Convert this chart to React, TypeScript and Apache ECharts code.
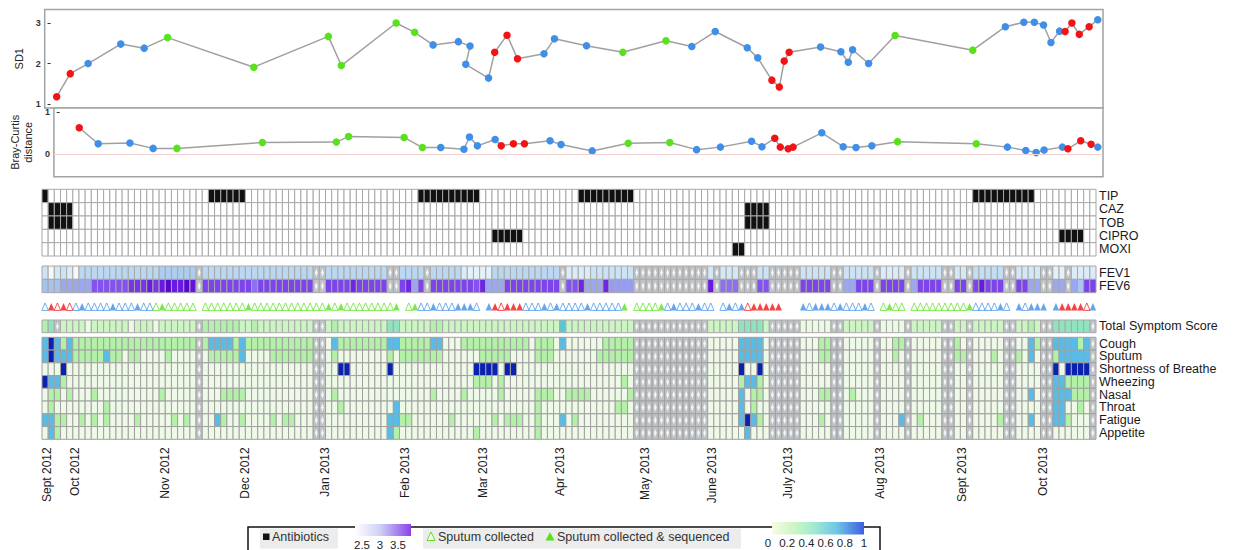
import React, { useEffect, useRef } from "react";
import * as echarts from "echarts";

type Run = [number, number, number];
type Span = [number, number];
type TriRun = [number, number, string];

const N_COLS = 171;
const FONT = "Liberation Sans, Arial, Helvetica, sans-serif";

// ---------- SD1 (top panel), x in sample-column units ----------
const SD1_X = [1.0, 3.2, 6.1, 11.4, 15.2, 19.0, 33.0, 45.1, 47.2, 56.1, 59.1, 62.1, 66.2, 68.1, 67.4, 71.1, 72.1, 74.1, 75.8, 80.1, 81.8, 87.0, 92.9, 99.9, 104.1, 107.9, 113.1, 114.8, 117.1, 118.3, 119.1, 119.9, 125.0, 128.3, 129.5, 130.2, 132.8, 137.1, 149.7, 155.0, 158.0, 159.7, 161.2, 162.4, 163.8, 164.7, 165.8, 167.0, 168.6, 170.0];
const SD1_Y = [1.18, 1.75, 2.0, 2.48, 2.38, 2.64, 1.91, 2.67, 1.95, 3.0, 2.77, 2.46, 2.54, 2.43, 1.98, 1.64, 2.28, 2.7, 2.12, 2.24, 2.61, 2.44, 2.28, 2.56, 2.42, 2.79, 2.39, 2.14, 1.59, 1.42, 2.06, 2.28, 2.41, 2.29, 2.03, 2.34, 2.0, 2.69, 2.33, 2.91, 3.02, 3.02, 2.95, 2.52, 2.8, 2.79, 3.0, 2.72, 2.91, 3.08];
const SD1_GROUP = "rrbbbggggggbbbbbrrrbbbggbbbbrrrrbbbbbggbbbbbbrrrrb";

// ---------- Bray-Curtis distance ----------
const BC_X = [3.2, 6.3, 11.5, 15.3, 19.2, 33.2, 45.3, 47.3, 56.4, 59.4, 62.4, 66.2, 67.1, 68.4, 71.3, 72.3, 74.3, 76.1, 80.3, 82.1, 87.2, 93.1, 99.9, 104.3, 108.2, 113.3, 115.0, 117.1, 118.0, 119.3, 120.1, 124.8, 128.3, 130.4, 133.0, 137.2, 150.1, 155.2, 158.2, 159.9, 161.2, 164.2, 165.1, 167.2, 168.9, 170.0];
const BC_Y = [0.63, 0.25, 0.27, 0.14, 0.14, 0.28, 0.29, 0.42, 0.4, 0.16, 0.16, 0.12, 0.41, 0.2, 0.35, 0.2, 0.25, 0.25, 0.32, 0.23, 0.08, 0.26, 0.28, 0.11, 0.17, 0.31, 0.18, 0.38, 0.17, 0.13, 0.17, 0.51, 0.18, 0.16, 0.2, 0.3, 0.25, 0.17, 0.09, 0.04, 0.1, 0.17, 0.13, 0.32, 0.24, 0.17];
const BC_GROUP = "rbbbggggggbbbbbrrrbbbggbbbbrrrrbbbbggbbbbbrrrb";

// ---------- Antibiotics (column spans) ----------
const ABX_NAMES = ["TIP", "CAZ", "TOB", "CIPRO", "MOXI"];
const TIP: Span[] = [[0, 0], [27, 32], [61, 70], [87, 95], [151, 160]];
const CAZ: Span[] = [[1, 4], [114, 117]];
const TOB: Span[] = [[1, 4], [114, 117]];
const CIPRO: Span[] = [[73, 77], [165, 168]];
const MOXI: Span[] = [[112, 113]];

// ---------- Lung function ----------
const FEV_NAMES = ["FEV1", "FEV6"];
const FEV_MISSING = [25, 44, 45, 56, 57, 62, 84, 96, 97, 98, 99, 100, 101, 102, 103, 104, 105, 106, 107, 109, 113, 114, 115, 118, 119, 120, 121, 122, 128, 129, 135, 140, 146, 147, 150, 156, 157, 162, 163, 166];
const FEV1: Run[] = [[0, 0, 2.55], [1, 1, 2.3], [2, 2, 2.5], [3, 3, 2.55], [4, 4, 2.45], [5, 5, 2.3], [6, 18, 2.65], [19, 24, 2.75], [26, 43, 2.65], [46, 55, 2.65], [58, 61, 2.65], [63, 67, 2.65], [68, 68, 2.45], [69, 72, 2.4], [73, 83, 2.65], [85, 88, 2.45], [89, 95, 2.55], [108, 108, 2.5], [110, 112, 2.5], [116, 117, 2.55], [123, 127, 2.55], [130, 134, 2.55], [136, 139, 2.45], [141, 145, 2.55], [148, 149, 2.5], [151, 155, 2.6], [158, 161, 2.5], [164, 165, 2.4], [167, 170, 2.45]];
const FEV6: Run[] = [[0, 2, 2.85], [3, 7, 3.0], [8, 13, 3.3], [14, 16, 3.4], [17, 17, 3.5], [18, 18, 3.4], [19, 19, 3.5], [20, 20, 3.65], [21, 22, 3.5], [23, 23, 3.65], [24, 24, 3.55], [26, 33, 3.35], [34, 34, 3.2], [35, 43, 3.35], [46, 49, 3.35], [50, 50, 3.45], [51, 55, 3.35], [58, 58, 3.35], [59, 59, 3.45], [60, 60, 3.0], [61, 61, 3.35], [63, 69, 3.35], [70, 70, 3.3], [71, 71, 3.45], [72, 74, 3.0], [75, 83, 3.35], [85, 86, 3.3], [87, 87, 3.45], [88, 90, 3.0], [91, 91, 3.45], [92, 95, 3.05], [108, 108, 3.5], [110, 112, 3.2], [116, 117, 3.3], [123, 127, 3.35], [130, 131, 3.0], [132, 134, 3.35], [136, 139, 3.35], [141, 141, 3.0], [142, 145, 3.35], [148, 149, 3.35], [151, 151, 3.35], [152, 152, 3.5], [153, 155, 3.35], [158, 159, 3.35], [160, 161, 3.0], [164, 165, 3.0], [167, 167, 3.0], [168, 168, 2.8], [169, 170, 3.35]];

// ---------- Sputum samples (b/r/g = open, B/R/G = sequenced) ----------
const SPUTUM: TriRun[] = [[0, 0, "b"], [1, 1, "R"], [2, 2, "r"], [3, 3, "R"], [4, 4, "r"], [5, 5, "b"], [6, 6, "B"], [7, 10, "b"], [11, 11, "B"], [12, 14, "b"], [15, 15, "B"], [16, 17, "b"], [18, 18, "g"], [19, 19, "G"], [20, 24, "g"], [26, 32, "g"], [33, 33, "G"], [34, 45, "g"], [46, 46, "G"], [47, 47, "g"], [48, 48, "G"], [49, 56, "g"], [57, 57, "G"], [59, 59, "g"], [60, 60, "G"], [61, 62, "b"], [63, 63, "B"], [64, 66, "b"], [67, 69, "B"], [70, 70, "b"], [72, 72, "B"], [73, 73, "R"], [74, 74, "r"], [75, 77, "R"], [78, 80, "b"], [81, 81, "B"], [82, 82, "b"], [83, 83, "B"], [84, 87, "b"], [88, 88, "B"], [89, 93, "b"], [94, 94, "G"], [96, 99, "g"], [100, 100, "G"], [101, 101, "b"], [102, 102, "B"], [103, 105, "b"], [106, 106, "B"], [107, 108, "b"], [110, 110, "b"], [111, 111, "B"], [112, 112, "b"], [113, 113, "B"], [114, 114, "r"], [115, 119, "R"], [123, 123, "B"], [124, 124, "b"], [125, 127, "B"], [128, 128, "b"], [129, 129, "B"], [130, 132, "b"], [133, 133, "B"], [134, 134, "b"], [136, 136, "g"], [137, 137, "G"], [138, 139, "g"], [141, 149, "g"], [150, 150, "G"], [151, 154, "b"], [155, 155, "B"], [156, 156, "b"], [158, 158, "B"], [159, 159, "b"], [160, 162, "B"], [164, 164, "B"], [165, 168, "R"], [169, 169, "r"], [170, 170, "B"]];

// ---------- Symptoms (0..1 scores) ----------
const SYM_MISSING = [25, 44, 45, 96, 97, 98, 99, 100, 101, 102, 103, 104, 105, 106, 107, 118, 119, 120, 121, 122, 128, 129, 135, 140, 146, 147, 150, 156, 157, 162, 163, 170];
const TOTAL_MISSING = [2, 25, 44, 45, 96, 97, 98, 99, 100, 101, 102, 103, 104, 105, 106, 107, 118, 119, 120, 121, 122, 128, 129, 135, 140, 146, 147, 150, 156, 157, 162, 163, 170];
const TOTAL_BASE = 0.15;
const TOTAL: Run[] = [[0, 0, 0.25], [1, 1, 0.4], [7, 7, 0.05], [14, 14, 0.05], [18, 18, 0.05], [26, 31, 0.25], [34, 34, 0.25], [47, 47, 0.25], [56, 57, 0.4], [63, 64, 0.25], [84, 84, 0.55], [113, 116, 0.4], [123, 127, 0.05], [136, 139, 0.05], [160, 160, 0.25], [164, 169, 0.4]];
const COUGH: Run[] = [[0, 0, 0.75], [1, 1, 1], [2, 2, 0.75], [3, 3, 0.25], [4, 4, 0.75], [5, 24, 0.25], [26, 26, 0.25], [27, 30, 0.75], [31, 31, 0.25], [32, 32, 0.75], [33, 43, 0.25], [47, 47, 0.75], [48, 55, 0.25], [56, 57, 0.75], [58, 62, 0.25], [63, 64, 0.75], [68, 78, 0.25], [80, 82, 0.25], [84, 84, 0.75], [91, 95, 0.25], [113, 116, 0.75], [126, 127, 0.25], [138, 139, 0.25], [148, 148, 0.25], [160, 160, 0.75], [161, 161, 0.25], [164, 167, 0.75], [168, 168, 0.25], [169, 169, 0.75]];
const SPUTUM_SYM: Run[] = [[0, 0, 0.75], [1, 1, 1], [2, 4, 0.75], [5, 9, 0.25], [10, 10, 0.75], [11, 12, 0.25], [14, 15, 0.25], [20, 20, 0.25], [27, 31, 0.25], [32, 32, 0.75], [37, 43, 0.25], [47, 47, 0.25], [56, 56, 0.25], [58, 64, 0.25], [71, 75, 0.25], [80, 82, 0.25], [90, 95, 0.25], [113, 116, 0.75], [126, 127, 0.25], [138, 138, 0.25], [148, 149, 0.25], [154, 154, 0.25], [158, 158, 0.25], [160, 160, 0.75], [164, 164, 0.25], [165, 169, 0.75]];
const BREATH: Run[] = [[3, 3, 1], [48, 49, 1], [56, 56, 1], [70, 73, 1], [75, 76, 1], [113, 113, 1], [116, 116, 1], [164, 164, 1], [166, 169, 1]];
const WHEEZE: Run[] = [[0, 0, 1], [1, 2, 0.75], [3, 3, 0.25], [70, 72, 0.25], [74, 74, 0.25], [94, 94, 0.25], [113, 113, 0.25], [114, 115, 0.75], [116, 116, 0.25], [164, 165, 0.75], [166, 169, 0.25]];
const NASAL: Run[] = [[1, 2, 0.25], [4, 4, 0.25], [8, 8, 0.25], [19, 19, 0.25], [29, 32, 0.25], [47, 47, 0.25], [63, 63, 0.25], [68, 68, 0.25], [74, 74, 0.25], [80, 82, 0.25], [85, 88, 0.25], [95, 95, 0.25], [113, 113, 0.75], [115, 116, 0.25], [126, 127, 0.25], [131, 131, 0.25], [160, 160, 0.75], [164, 166, 0.75], [167, 169, 0.25]];
const THROAT: Run[] = [[1, 1, 0.25], [10, 10, 0.25], [48, 48, 0.25], [57, 57, 0.75], [80, 80, 0.25], [93, 94, 0.25], [113, 113, 0.75], [115, 115, 0.25], [164, 165, 0.75], [168, 168, 0.25]];
const FATIGUE: Run[] = [[0, 1, 0.75], [2, 3, 0.25], [6, 6, 0.25], [8, 8, 0.25], [10, 10, 0.25], [15, 15, 0.25], [21, 21, 0.25], [23, 23, 0.25], [28, 28, 0.75], [29, 29, 0.25], [32, 32, 0.25], [37, 37, 0.25], [39, 40, 0.25], [56, 57, 0.75], [58, 59, 0.25], [66, 66, 0.25], [73, 73, 0.25], [75, 77, 0.25], [80, 80, 0.25], [84, 84, 0.75], [86, 86, 0.25], [113, 113, 0.75], [114, 114, 1], [115, 115, 0.75], [116, 116, 0.25], [126, 126, 0.25], [139, 139, 0.75], [142, 142, 0.25], [155, 155, 0.25], [160, 160, 0.75], [164, 165, 0.75], [166, 166, 0.25]];
const APPETITE: Run[] = [[1, 1, 0.75], [2, 2, 0.25], [56, 56, 0.75], [57, 57, 0.25], [70, 70, 0.25], [80, 80, 0.25], [114, 114, 0.75]];
const SYMPTOM_NAMES = ["Cough", "Sputum", "Shortness of Breathe", "Wheezing", "Nasal", "Throat", "Fatigue", "Appetite"];
const TOTAL_NAMES = ["Total Symptom Score"];

// ---------- Time axis ----------
const MONTH_LABELS = ["Sept 2012", "Oct 2012", "Nov 2012", "Dec 2012", "Jan 2013", "Feb 2013", "Mar 2013", "Apr 2013", "May 2013", "June 2013", "July 2013", "Aug 2013", "Sept 2013", "Oct 2013"];
const MONTH_POS = [0.76, 5.35, 19.95, 32.9, 45.9, 58.9, 71.5, 84.0, 97.8, 108.7, 121.0, 135.9, 149.3, 162.4];

// ---------- Legend ticks ----------
const FEV_TICKS = ["2.5", "3", "3.5"];
const SYM_TICKS = ["0", "0.2", "0.4", "0.6", "0.8", "1"];

// ---------- colours ----------
const GROUP_COLOR: Record<string, string> = { r: "#f21414", b: "#3f8fe8", g: "#58e21c" };
const FEV_STOPS: [number, string][] = [[2.3, "#f4f9fd"], [2.5, "#d3e8f6"], [2.7, "#b1d3ef"], [2.9, "#a2bcee"], [3.05, "#979cf0"], [3.3, "#8452f0"], [3.5, "#6a18e4"], [3.7, "#5200cc"]];
const TOTAL_STOPS: [number, string][] = [[0, "#f2fbee"], [0.05, "#eafae3"], [0.15, "#cdf5c4"], [0.25, "#b3efad"], [0.4, "#8fe4bf"], [0.55, "#58c8d8"], [1, "#2f6fd8"]];
const SYM_STOPS: [number, string][] = [[0, "#eefae7"], [0.25, "#b4f1a8"], [0.5, "#92e6c4"], [0.75, "#58bce6"], [1, "#0b22b0"]];

function hex(h: string): number[] {
  const s = h.replace("#", "");
  return [0, 2, 4].map((i) => parseInt(s.slice(i, i + 2), 16));
}
function lerp(stops: [number, string][], v: number): string {
  if (v <= stops[0][0]) return stops[0][1];
  for (let i = 1; i < stops.length; i++) {
    if (v <= stops[i][0]) {
      const [a, ca] = stops[i - 1];
      const [b, cb] = stops[i];
      const t = (v - a) / (b - a);
      const A = hex(ca), B = hex(cb);
      const m = A.map((x, k) => Math.round(x + (B[k] - x) * t));
      return `rgb(${m[0]},${m[1]},${m[2]})`;
    }
  }
  return stops[stops.length - 1][1];
}
function lookup(runs: Run[], c: number): number | undefined {
  for (const r of runs) if (c >= r[0] && c <= r[1]) return r[2];
  return undefined;
}

type Cell = { c: number; r: number; fill: string; missing: boolean };

function buildCells(): Record<string, Cell[]> {
  const abx: Cell[] = [];
  [TIP, CAZ, TOB, CIPRO, MOXI].forEach((spans, r) => {
    for (let c = 0; c < N_COLS; c++) {
      const on = spans.some((s) => c >= s[0] && c <= s[1]);
      abx.push({ c, r, fill: on ? "#111111" : "#ffffff", missing: false });
    }
  });
  const fev: Cell[] = [];
  [FEV1, FEV6].forEach((runs, r) => {
    for (let c = 0; c < N_COLS; c++) {
      const v = lookup(runs, c);
      const miss = FEV_MISSING.includes(c) || v === undefined;
      fev.push({ c, r, fill: miss ? "" : lerp(FEV_STOPS, v as number), missing: miss });
    }
  });
  const total: Cell[] = [];
  for (let c = 0; c < N_COLS; c++) {
    const v = lookup(TOTAL, c);
    const miss = TOTAL_MISSING.includes(c);
    total.push({ c, r: 0, fill: lerp(TOTAL_STOPS, v === undefined ? TOTAL_BASE : v), missing: miss });
  }
  const sym: Cell[] = [];
  [COUGH, SPUTUM_SYM, BREATH, WHEEZE, NASAL, THROAT, FATIGUE, APPETITE].forEach((runs, r) => {
    for (let c = 0; c < N_COLS; c++) {
      const v = lookup(runs, c);
      sym.push({ c, r, fill: lerp(SYM_STOPS, v === undefined ? 0 : v), missing: SYM_MISSING.includes(c) });
    }
  });
  return { abx, fev, total, sym };
}

function cellSeries(idx: number, cells: Cell[], stroke: string) {
  return {
    type: "custom",
    xAxisIndex: idx,
    yAxisIndex: idx,
    silent: true,
    clip: false,
    encode: { x: 0, y: 1 },
    data: cells.map((cl) => [cl.c, cl.r]),
    renderItem: (params: any, api: any) => {
      const cl = cells[params.dataIndex];
      const p0 = api.coord([cl.c, cl.r]);
      const p1 = api.coord([cl.c + 1, cl.r + 1]);
      const x = Math.min(p0[0], p1[0]);
      const y = Math.min(p0[1], p1[1]);
      const w = Math.abs(p1[0] - p0[0]);
      const h = Math.abs(p1[1] - p0[1]);
      if (cl.missing) {
        return {
          type: "group",
          children: [
            { type: "rect", shape: { x, y, width: w, height: h }, style: { fill: "#bfc3c6", stroke, lineWidth: 1 } },
            {
              type: "polygon",
              shape: { points: [[x + w / 2, y + 1.4], [x + w - 1.3, y + h / 2], [x + w / 2, y + h - 1.4], [x + 1.3, y + h / 2]] },
              style: { fill: "#f3f4f5", stroke: "#b0b4b8", lineWidth: 0.5 },
            },
          ],
        };
      }
      return { type: "rect", shape: { x, y, width: w, height: h }, style: { fill: cl.fill, stroke, lineWidth: 1 } };
    },
  };
}

// hidden value axis used by the cell series
function rowValueAxis(idx: number, n: number) {
  return { gridIndex: idx, type: "value", min: 0, max: n, inverse: true, position: "left", show: false };
}
// category axis on the right that only carries the row names
function rowNameAxis(idx: number, names: string[]) {
  return {
    gridIndex: idx,
    type: "category",
    data: names,
    inverse: true,
    position: "right",
    boundaryGap: true,
    axisLine: { show: false },
    axisTick: { show: false },
    splitLine: { show: false },
    axisLabel: {
      interval: 0,
      margin: 3,
      fontSize: 12.5,
      color: "#1a1a1a",
      fontFamily: FONT,
    },
  };
}

function buildOption() {
  const cells = buildCells();
  const L = 44.7, W = 1058.3;
  const topX = { type: "value", min: -0.95, max: 170.85, show: false };
  const heatX = (i: number, show = false) => ({
    gridIndex: i,
    type: "value",
    min: 0,
    max: N_COLS,
    show,
    axisLine: { show: false },
    axisTick: { show: false },
    splitLine: { show: false },
    axisLabel: show
      ? {
          customValues: MONTH_POS,
          formatter: (v: number) => {
            const k = MONTH_POS.findIndex((p) => Math.abs(p - v) < 1e-6);
            return k >= 0 ? MONTH_LABELS[k] : "";
          },
          showMinLabel: true,
          showMaxLabel: true,
          rotate: 90,
          margin: 8,
          fontSize: 12,
          color: "#1a1a1a",
          fontFamily: FONT,
        }
      : { show: false },
  });

  const pointData = (xs: number[], ys: number[], g: string) =>
    xs.map((x, i) => ({ value: [x, ys[i]], itemStyle: { color: GROUP_COLOR[g[i]] } }));

  const triData = [] as any[];
  SPUTUM.forEach(([s, e, k]) => {
    for (let c = s; c <= e; c++) {
      const col = GROUP_COLOR[k.toLowerCase()];
      const filled = k !== k.toLowerCase();
      triData.push({
        value: [c + 0.5, 0.5],
        itemStyle: filled ? { color: col, borderWidth: 0 } : { color: "#ffffff", borderColor: col, borderWidth: 0.9 },
      });
    }
  });

  const gridStyle = { show: true, borderColor: "#9fa3a3", borderWidth: 1.5, backgroundColor: "#ffffff" };
  const graphic: any[] = [
    { type: "rect", shape: { x: 248, y: 527, width: 632, height: 40 }, style: { fill: "#ffffff", stroke: "#111111", lineWidth: 1.5 } },
    { type: "rect", shape: { x: 260, y: 528.5, width: 78, height: 20 }, style: { fill: "#ececec" } },
    { type: "rect", shape: { x: 263, y: 533.5, width: 6.5, height: 6.5 }, style: { fill: "#111111" } },
    { type: "text", x: 272, y: 537, style: { text: "Antibiotics", fontSize: 12.5, fontFamily: FONT, fill: "#333333", verticalAlign: "middle" } },
    {
      type: "rect",
      shape: { x: 355, y: 524, width: 56, height: 12 },
      style: { fill: { type: "linear", x: 0, y: 0, x2: 1, y2: 0, colorStops: [{ offset: 0, color: "#ffffff" }, { offset: 0.45, color: "#cdd0f6" }, { offset: 1, color: "#8a44e8" }] } },
    },
    ...FEV_TICKS.map((t, i) => ({ type: "text", x: 362 + i * 18, y: 545, style: { text: t, fontSize: 11.5, fontFamily: FONT, fill: "#222222", align: "center", verticalAlign: "middle" } })),
    { type: "rect", shape: { x: 423, y: 528.5, width: 318, height: 20 }, style: { fill: "#ececec" } },
    { type: "polygon", shape: { points: [[431, 532], [435, 540.5], [427, 540.5]] }, style: { fill: "#ffffff", stroke: "#58e21c", lineWidth: 1 } },
    { type: "text", x: 438, y: 537, style: { text: "Sputum collected", fontSize: 12.5, fontFamily: FONT, fill: "#333333", verticalAlign: "middle" } },
    { type: "polygon", shape: { points: [[550, 532], [554.5, 540.5], [545.5, 540.5]] }, style: { fill: "#58e21c" } },
    { type: "text", x: 557, y: 537, style: { text: "Sputum collected & sequenced", fontSize: 12.5, fontFamily: FONT, fill: "#333333", verticalAlign: "middle" } },
    {
      type: "rect",
      shape: { x: 772, y: 522, width: 92, height: 12.5 },
      style: {
        fill: {
          type: "linear", x: 0, y: 0, x2: 1, y2: 0,
          colorStops: [
            { offset: 0, color: "#f7fbe2" },
            { offset: 0.25, color: "#cbf5c6" },
            { offset: 0.45, color: "#a2ebd2" },
            { offset: 0.7, color: "#70c6e6" },
            { offset: 1, color: "#3d60e0" },
          ],
        },
      },
    },
    ...SYM_TICKS.map((t, i) => ({ type: "text", x: 768 + i * 19.2, y: 543, style: { text: t, fontSize: 11.5, fontFamily: FONT, fill: "#222222", align: "center", verticalAlign: "middle" } })),
  ];

  return {
    animation: false,
    backgroundColor: "#ffffff",
    textStyle: { fontFamily: FONT },
    grid: [
      { left: L, top: 9.5, width: W, height: 98.5, ...gridStyle },
      { left: L, top: 108, width: W, height: 68.7, ...gridStyle },
      { left: 42, top: 189.3, width: 1054, height: 66.7 },
      { left: 42, top: 266, width: 1054, height: 26.7 },
      { left: 42, top: 300, width: 1054, height: 13.4 },
      { left: 42, top: 320, width: 1054, height: 12.7 },
      { left: 42, top: 337.3, width: 1054, height: 102 },
    ],
    xAxis: [
      { ...topX, gridIndex: 0 },
      { ...topX, gridIndex: 1 },
      heatX(2),
      heatX(3),
      heatX(4),
      heatX(5),
      heatX(6, true),
    ],
    yAxis: [
      {
        gridIndex: 0, type: "value", min: 0.902, max: 3.334,
        axisLine: { show: false }, splitLine: { show: false },
        axisTick: { show: true, customValues: [1, 2, 3], length: 3, lineStyle: { color: "#333", width: 1 } },
        axisLabel: { customValues: [1, 2, 3], showMinLabel: true, showMaxLabel: true, fontSize: 9, color: "#333", margin: 4, fontWeight: "bold", fontFamily: FONT },
        name: "SD1", nameLocation: "middle", nameGap: 13, nameRotate: 90,
        nameTextStyle: { fontSize: 11, color: "#222", fontFamily: FONT },
      },
      {
        gridIndex: 1, type: "value", min: -0.533, max: 1.1,
        axisLine: { show: false }, splitLine: { show: false },
        axisTick: { show: true, customValues: [0, 1], length: 3, lineStyle: { color: "#333", width: 1 } },
        axisLabel: { customValues: [0, 1], showMinLabel: true, showMaxLabel: true, fontSize: 9, color: "#333", margin: 4, fontWeight: "bold", fontFamily: FONT },
        name: "Bray-Curtis\ndistance", nameLocation: "middle", nameGap: 9, nameRotate: 90,
        nameTextStyle: { fontSize: 11, color: "#222", lineHeight: 13, fontFamily: FONT },
      },
      rowValueAxis(2, ABX_NAMES.length),
      rowValueAxis(3, FEV_NAMES.length),
      { gridIndex: 4, type: "value", min: 0, max: 1, show: false },
      rowValueAxis(5, TOTAL_NAMES.length),
      rowValueAxis(6, SYMPTOM_NAMES.length),
      rowNameAxis(2, ABX_NAMES),
      rowNameAxis(3, FEV_NAMES),
      rowNameAxis(5, TOTAL_NAMES),
      rowNameAxis(6, SYMPTOM_NAMES),
    ],
    series: [
      {
        type: "line", xAxisIndex: 0, yAxisIndex: 0, silent: true,
        data: pointData(SD1_X, SD1_Y, SD1_GROUP),
        symbol: "circle", symbolSize: 7.5, showSymbol: true,
        lineStyle: { color: "#a0a0a0", width: 1.5 },
        itemStyle: { borderWidth: 0 },
      },
      {
        type: "line", xAxisIndex: 1, yAxisIndex: 1, silent: true,
        data: pointData(BC_X, BC_Y, BC_GROUP),
        symbol: "circle", symbolSize: 7.5, showSymbol: true,
        lineStyle: { color: "#a0a0a0", width: 1.5 },
        itemStyle: { borderWidth: 0 },
        markLine: {
          silent: true, symbol: ["none", "none"], label: { show: false },
          lineStyle: { color: "#f3d0d0", width: 1, type: "solid" },
          data: [{ yAxis: 0 }],
        },
      },
      cellSeries(2, cells.abx, "#a8a8a8"),
      cellSeries(3, cells.fev, "#a8a8a8"),
      {
        type: "scatter", xAxisIndex: 4, yAxisIndex: 4, silent: true,
        symbol: "triangle", symbolSize: [6.5, 7.5],
        data: triData,
      },
      cellSeries(5, cells.total, "#a8a8a8"),
      cellSeries(6, cells.sym, "#a0a0a0"),
    ],
    graphic,
  };
}

export default function App() {
  const ref = useRef<HTMLDivElement>(null);
  useEffect(() => {
    if (!ref.current) return;
    const chart = echarts.init(ref.current, null, { renderer: "svg" });
    chart.setOption(buildOption() as any);
    return () => chart.dispose();
  }, []);
  return <div ref={ref} style={{ position: "absolute", left: 0, top: 0, width: 1236, height: 550 }} />;
}
